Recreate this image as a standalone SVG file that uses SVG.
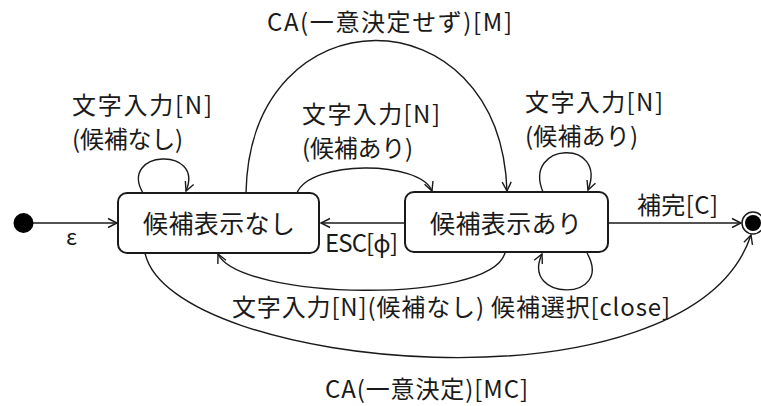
<svg xmlns="http://www.w3.org/2000/svg" width="761" height="406" viewBox="0 0 761 406">
<style>
text{font-family:"Noto Sans CJK JP","Noto Sans",sans-serif;fill:#1a1a1a;font-size:24px}
.st{font-size:25px}
.box{fill:#fff;stroke:#1a1a1a;stroke-width:2}
.edge{fill:none;stroke:#1a1a1a;stroke-width:1.4;marker-end:url(#arr)}
</style>
<defs>
<marker id="arr" markerUnits="userSpaceOnUse" markerWidth="12" markerHeight="12" refX="10" refY="5" orient="auto" viewBox="0 0 12 10">
<path d="M1,0.5 L10,5 L1,9.5" fill="none" stroke="#1a1a1a" stroke-width="1.4"/>
</marker>
</defs>
<rect width="761" height="406" fill="#fff"/>
<g id="connectors">
<line class="edge" x1="33" y1="223" x2="117" y2="223"/>
<path class="edge" d="M143,193 C118,150 205,146 186,191"/>
<path class="edge" d="M297,193 C310,160 420,160 432,191"/>
<path class="edge" d="M246,193 C250,-10 500,-10 507,191"/>
<path class="edge" d="M543,192 C522,142 608,138 588,190"/>
<line class="edge" x1="405" y1="223" x2="321" y2="223"/>
<path class="edge" d="M505,253 C490,305 240,300 218,254"/>
<path class="edge" d="M587,253 C615,302 520,302 542,254"/>
<line class="edge" x1="608" y1="223" x2="741" y2="223"/>
<path class="edge" d="M145,253 C170,370 690,420 751,235"/>
</g>
<g id="initial"><circle cx="23.5" cy="223" r="10" fill="#000"/></g>
<g id="final"><circle cx="753" cy="223" r="11" fill="#fff" stroke="#1a1a1a" stroke-width="1.5"/><circle cx="753" cy="223" r="8" fill="#000"/></g>
<g id="state-nashi"><rect class="box" x="118" y="193" width="201" height="60" rx="9"/><text class="st" x="143" y="233" textLength="152" lengthAdjust="spacing">候補表示なし</text></g>
<g id="state-ari"><rect class="box" x="405" y="192" width="203" height="60" rx="9"/><text class="st" x="430" y="233" textLength="152" lengthAdjust="spacing">候補表示あり</text></g>
<g id="labels">
<text x="72" y="114" textLength="140" lengthAdjust="spacing">文字入力[N]</text>
<text x="72" y="148" textLength="111" lengthAdjust="spacing">(候補なし)</text>
<text x="302" y="123" textLength="138" lengthAdjust="spacing">文字入力[N]</text>
<text x="302" y="157" textLength="111" lengthAdjust="spacing">(候補あり)</text>
<text x="525" y="111" textLength="138" lengthAdjust="spacing">文字入力[N]</text>
<text x="525" y="145" textLength="113" lengthAdjust="spacing">(候補あり)</text>
<text x="267" y="31" textLength="245" lengthAdjust="spacing">CA(一意決定せず)[M]</text>
<text x="66" y="245" style="font-size:22px">ε</text>
<text x="325" y="252" textLength="73" lengthAdjust="spacing">ESC[ϕ]</text>
<text x="637" y="214" textLength="81" lengthAdjust="spacing">補完[C]</text>
<text x="232" y="316" textLength="438" lengthAdjust="spacing">文字入力[N](候補なし) 候補選択[close]</text>
<text x="325" y="398" textLength="203" lengthAdjust="spacing">CA(一意決定)[MC]</text>
</g>
</svg>
